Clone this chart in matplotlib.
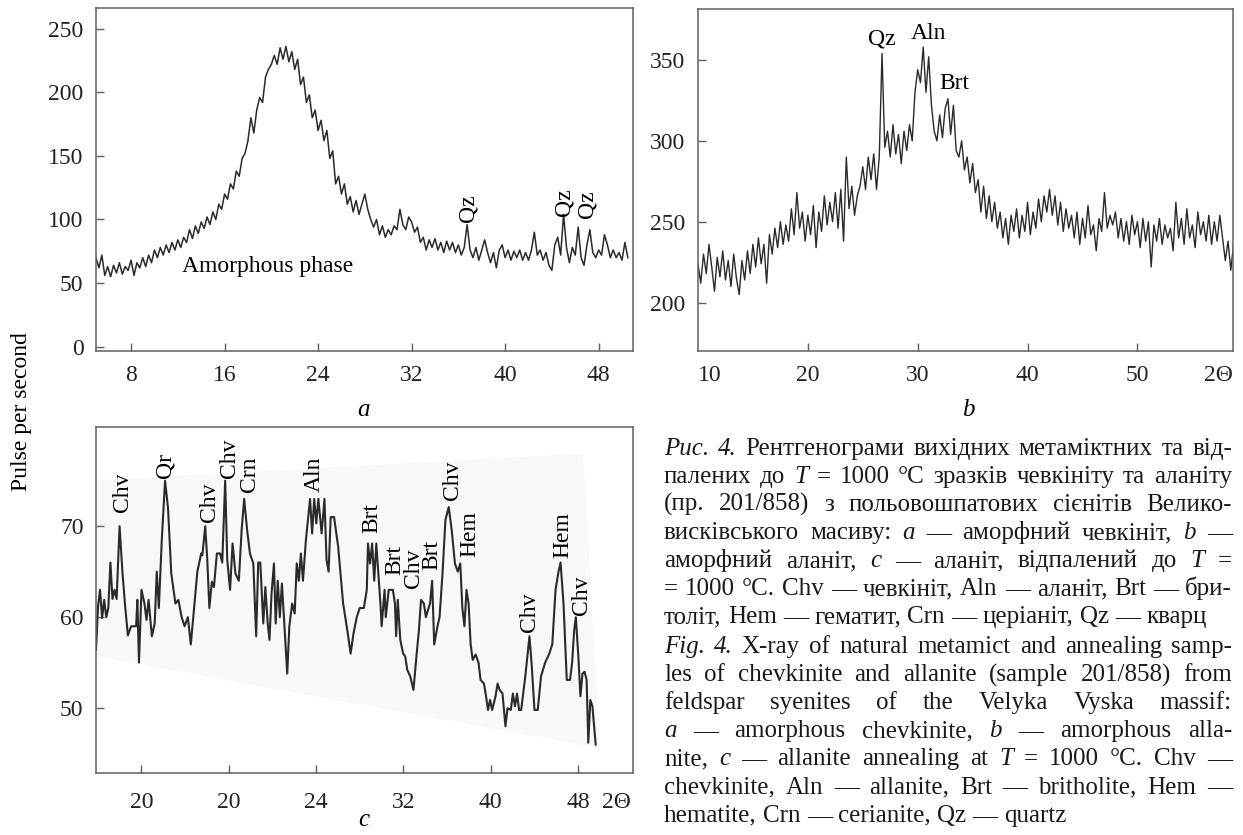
import numpy as np
import matplotlib.pyplot as plt

plt.rcParams['font.family'] = ['Liberation Serif', 'DejaVu Serif']

W, H = 1243, 835
FS = 17            # tick / label font size
CAP_FS = 18        # caption font size
LINE = '#2a2a2a'
SPINE = '#606060'

# panel a: amorphous chevkinite, scan from 5 deg in 0.25 deg steps
a_start, a_step = 5.0, 0.25
a_counts = [
    70, 62, 72, 56, 63, 55, 64, 58,
    66, 57, 63, 60, 68, 56, 66, 62,
    70, 63, 72, 66, 76, 70, 78, 72,
    80, 74, 82, 76, 84, 78, 86, 82,
    92, 85, 95, 89, 98, 93, 102, 96,
    106, 100, 112, 108, 120, 116, 128, 124,
    138, 134, 148, 152, 162, 180, 168, 186,
    196, 192, 212, 218, 222, 229, 222, 235,
    226, 236, 224, 232, 218, 226, 206, 212,
    192, 198, 180, 186, 170, 178, 162, 170,
    148, 154, 128, 134, 120, 128, 112, 118,
    106, 115, 104, 112, 120, 108, 100, 94,
    100, 88, 95, 86, 92, 88, 95, 92,
    108, 96, 92, 102, 98, 90, 94, 82,
    86, 76, 84, 78, 85, 76, 82, 74,
    83, 76, 82, 74, 80, 72, 78, 96,
    76, 70, 78, 68, 76, 84, 74, 66,
    74, 62, 76, 80, 70, 76, 68, 75,
    70, 76, 68, 74, 68, 76, 90, 72,
    76, 68, 74, 64, 60, 80, 86, 72,
    104, 78, 66, 78, 72, 94, 70, 64,
    80, 92, 74, 70, 76, 72, 88, 80,
    70, 76, 70, 74, 68, 82, 70,
]

# panel b: amorphous allanite, scan from 10 deg in 0.25 deg steps
b_start, b_step = 10.0, 0.25
b_counts = [
    224, 212, 230, 218, 236, 222, 207, 228,
    216, 232, 214, 226, 210, 230, 215, 205,
    226, 214, 232, 218, 236, 222, 240, 224,
    236, 212, 242, 230, 246, 234, 250, 236,
    248, 238, 258, 242, 268, 246, 256, 238,
    254, 242, 260, 234, 256, 244, 266, 248,
    262, 250, 268, 246, 270, 238, 290, 258,
    272, 254, 266, 272, 284, 270, 290, 276,
    292, 270, 290, 354, 296, 306, 290, 310,
    292, 304, 286, 306, 294, 310, 300, 330,
    344, 336, 358, 330, 352, 322, 306, 300,
    316, 302, 320, 326, 304, 322, 294, 290,
    300, 282, 290, 274, 286, 268, 276, 256,
    272, 252, 266, 250, 262, 246, 256, 240,
    252, 236, 254, 244, 258, 240, 254, 244,
    262, 242, 256, 246, 264, 250, 266, 256,
    270, 254, 266, 248, 262, 244, 258, 246,
    254, 240, 256, 236, 252, 240, 260, 242,
    248, 232, 252, 244, 268, 246, 254, 248,
    256, 240, 252, 238, 250, 236, 254, 242,
    250, 234, 252, 238, 250, 222, 248, 238,
    252, 236, 248, 240, 246, 232, 262, 240,
    252, 236, 258, 240, 248, 234, 256, 242,
    250, 238, 254, 236, 250, 238, 254, 240,
    226, 238, 220, 236,
]

# panel c: allanite annealed at 1000 C (axis as printed)
c_theta = [
    3.83, 4.02, 4.20, 4.39, 4.58, 4.77, 4.96, 5.15, 5.34, 5.53, 5.72, 5.99,
    6.25, 6.48, 6.75, 7.05, 7.51, 7.62, 7.77, 8.00, 8.27, 8.46, 8.65, 8.95,
    9.21, 9.40, 9.59, 9.86, 10.16, 10.43, 10.73, 11.11, 11.38, 11.68, 11.95,
    12.25, 12.52, 12.82, 13.12, 13.47, 13.58, 13.84, 14.03, 14.22, 14.45,
    14.64, 14.91, 15.21, 15.40, 15.67, 15.86, 16.12, 16.35, 16.61, 16.92,
    17.18, 17.41, 17.68, 17.94, 18.25, 18.51, 18.70, 18.89, 19.16, 19.35,
    19.57, 19.73, 19.92, 20.14, 20.30, 20.49, 20.68, 20.87, 21.05, 21.36,
    21.55, 21.81, 22.04, 22.23, 22.42, 22.61, 22.80, 23.07, 23.45, 23.64,
    23.83, 24.02, 24.21, 24.51, 24.77, 24.96, 25.15, 25.34, 25.65, 26.03,
    26.48, 26.86, 27.17, 27.43, 27.73, 28.00, 28.38, 28.65, 28.76, 28.95,
    29.14, 29.33, 29.52, 29.71, 29.90, 30.01, 30.28, 30.39, 30.66, 31.04,
    31.23, 31.34, 31.49, 31.72, 31.98, 32.17, 32.36, 32.63, 32.93, 33.20,
    33.43, 33.62, 33.88, 34.07, 34.26, 34.45, 34.64, 34.83, 35.13, 35.32,
    35.59, 35.86, 36.16, 36.43, 36.73, 36.99, 37.22, 37.41, 37.60, 37.79,
    37.98, 38.17, 38.36, 38.63, 38.89, 39.08, 39.39, 39.58, 39.76, 39.95,
    40.14, 40.45, 40.64, 40.83, 41.09, 41.36, 41.55, 41.85, 42.04, 42.23,
    42.42, 42.61, 42.80, 43.18, 43.56, 43.75, 44.02, 44.32, 44.62, 45.00,
    45.38, 45.65, 45.95, 46.22, 46.41, 46.68, 46.98, 47.28, 47.47, 47.66,
    47.81, 48.04, 48.23, 48.42, 48.61, 48.80, 48.95, 49.14, 49.33, 49.63,
]
c_counts = [
    56.4, 61.2, 63.0, 59.9, 61.9, 60.0, 61.0, 66.0, 62.0, 63.0, 62.0, 70.0,
    65.0, 61.5, 58.0, 59.0, 59.0, 61.9, 55.0, 63.0, 61.5, 59.7, 61.9, 57.9,
    59.3, 65.0, 61.0, 68.5, 75.0, 72.0, 64.8, 61.5, 61.9, 60.0, 59.0,
    60.0, 57.0, 61.0, 65.0, 67.0, 66.8, 70.0, 66.3, 61.0, 63.9,
    63.3, 67.0, 67.0, 66.0, 75.0, 66.3, 63.0, 68.1, 64.8, 64.0,
    69.6, 73.0, 69.6, 67.0, 65.9, 57.9, 66.0, 66.0, 59.3, 63.3,
    59.3, 57.5, 62.6, 65.9, 59.3, 64.0, 60.0, 63.7, 60.0, 53.8,
    59.0, 61.5, 60.4, 65.9, 64.0, 67.0, 64.0, 68.5, 73.0, 69.2,
    73.0, 70.3, 73.0, 69.2, 73.0, 66.3, 65.0, 71.0, 71.0, 67.7,
    61.5, 58.6, 56.0, 58.2, 60.0, 61.0, 61.0, 63.0, 68.1, 65.9,
    68.1, 64.0, 68.1, 64.8, 61.5, 59.0, 63.0, 60.0, 63.0, 63.0,
    61.5, 57.9, 61.9, 57.5, 56.0, 55.7, 54.2, 53.5, 52.0, 55.7,
    58.6, 61.9, 61.5, 60.0, 60.8, 61.5, 64.0, 57.0, 59.0, 60.0,
    64.8, 70.7, 72.1, 69.6, 65.9, 65.0, 65.9, 61.0, 59.0, 63.0,
    61.5, 57.0, 55.3, 55.9, 55.0, 53.1, 52.7, 51.3, 49.8, 50.9,
    49.8, 51.3, 52.7, 52.0, 51.6, 48.0, 50.0, 49.8, 51.6, 50.2,
    51.6, 49.8, 49.8, 53.5, 57.9, 55.0, 49.8, 49.8, 53.5, 55.0,
    56.0, 57.0, 63.0, 65.0, 66.0, 61.5, 53.1, 53.1, 55.0, 58.6,
    60.0, 55.7, 51.3, 53.8, 54.0, 53.1, 46.2, 50.9, 50.2, 46.0,
]

a_peaks = [('Qz', 36.8, 98), ('Qz', 45.0, 103), ('Qz', 47.0, 101)]
b_peaks = [('Qz', 26.7, 363), ('Aln', 30.95, 366.5), ('Brt', 33.3, 335.5)]
c_peaks = [
    ('Chv', 6.29, 71.6), ('Qr', 10.16, 75.3), ('Chv', 14.22, 70.5),
    ('Chv', 16.05, 75.3), ('Crn', 17.94, 73.8), ('Aln', 23.83, 73.8),
    ('Brt', 29.14, 69.2), ('Brt', 31.23, 64.6), ('Chv', 32.93, 63.2),
    ('Brt', 34.64, 65.2), ('Chv', 36.54, 72.9), ('Hem', 38.06, 66.6),
    ('Chv', 43.56, 58.4), ('Hem', 46.6, 66.5), ('Chv', 48.3, 60.2),
]
c_tick_pos = [8, 16, 24, 32, 40, 48]
c_tick_labels = ['20', '20', '24', '32', '40', '48']

caption = [
    ('_Рис._ _4._ Рентгенограми вихідних метаміктних та від-', True),
    ('палених до _T_ = 1000 °C зразків чевкініту та аланіту', True),
    ('(пр. 201/858) з польовошпатових сієнітів Велико-', True),
    ('висківського масиву: _a_ — аморфний чевкініт, _b_ —', True),
    ('аморфний аланіт, _c_ — аланіт, відпалений до _T_ =', True),
    ('= 1000 °C. Chv — чевкініт, Aln — аланіт, Brt — бри-', True),
    ('толіт, Hem — гематит, Crn — церіаніт, Qz — кварц', False),
    ('_Fig._ _4._ X-ray of natural metamict and annealing samp-', True),
    ('les of chevkinite and allanite (sample 201/858) from', True),
    ('feldspar syenites of the Velyka Vyska massif:', True),
    ('_a_ — amorphous chevkinite, _b_ — amorphous alla-', True),
    ('nite, _c_ — allanite annealing at _T_ = 1000 °C. Chv —', True),
    ('chevkinite, Aln — allanite, Brt — britholite, Hem —', True),
    ('hematite, Crn — cerianite, Qz — quartz', False),
]

fig = plt.figure(figsize=(W / 100, H / 100), dpi=100)


def axes_px(l, t, r, b):
    return fig.add_axes([l / W, 1 - b / H, (r - l) / W, (b - t) / H])


def style(ax):
    for s in ax.spines.values():
        s.set_color(SPINE)
        s.set_linewidth(1.1)
    ax.tick_params(direction='in', length=6, width=1.0, color=SPINE,
                   labelsize=FS, labelcolor='#222222')
    ax.tick_params(axis='x', pad=10)
    ax.tick_params(axis='y', pad=9)


def under_axis(ax, x, text, ha, pad=10):
    ax.annotate(text, xy=(x, 0), xycoords=('data', 'axes fraction'),
                xytext=(0, -pad), textcoords='offset points',
                ha=ha, va='top', fontsize=FS, color='#222222')


# ---- a
ax_a = axes_px(96, 8, 633, 351)
xa = a_start + a_step * np.arange(len(a_counts))
ax_a.plot(xa, a_counts, color=LINE, lw=1.1)
ax_a.set_xlim(5.0, 50.94)
ax_a.set_ylim(-3.4, 266.3)
ax_a.set_xticks([8, 16, 24, 32, 40, 48])
ax_a.set_yticks([0, 50, 100, 150, 200, 250])
style(ax_a)
for name, x, y in a_peaks:
    ax_a.text(x, y, name, rotation=90, ha='center', va='bottom', fontsize=FS)
ax_a.text(12.4, 63, 'Amorphous phase', ha='left', va='center', fontsize=FS)

# ---- b
ax_b = axes_px(698, 9, 1233, 351)
xb = b_start + b_step * np.arange(len(b_counts))
ax_b.plot(xb, b_counts, color=LINE, lw=1.0)
ax_b.set_xlim(10.0, 58.7)
ax_b.set_ylim(170.1, 381.5)
ax_b.set_xticks([20, 30, 40, 50])
ax_b.set_yticks([200, 250, 300, 350])
style(ax_b)
under_axis(ax_b, 10.0, '10', 'left')
under_axis(ax_b, 58.7, '2Θ', 'right')
for name, x, y in b_peaks:
    ax_b.text(x, y, name, ha='center', va='center', fontsize=FS)

# ---- c
ax_c = axes_px(96, 427, 633, 773)
ax_c.fill([0, 0.907, 0.938, 0], [0.846, 0.923, 0.072, 0.337],
          transform=ax_c.transAxes, color='#f8f8f8', lw=0, zorder=0)
ax_c.plot(c_theta, c_counts, color=LINE, lw=1.5)
ax_c.set_xlim(3.83, 53.05)
ax_c.set_ylim(42.87, 80.9)
ax_c.set_xticks(c_tick_pos)
ax_c.set_xticklabels(c_tick_labels)
ax_c.set_yticks([50, 60, 70])
style(ax_c)
ax_c.tick_params(axis='x', pad=14)
under_axis(ax_c, 51.5, '2Θ', 'center', pad=14)
for name, x, y in c_peaks:
    ax_c.text(x, y, name, rotation=90, ha='center', va='bottom', fontsize=FS)

# panel letters and shared y label
fig.text(364 / W, 1 - 410 / H, 'a', style='italic', fontsize=FS + 1,
         ha='center', va='center')
fig.text(968 / W, 1 - 410 / H, 'b', style='italic', fontsize=FS + 1,
         ha='center', va='center')
fig.text(364 / W, 1 - 820 / H, 'c', style='italic', fontsize=FS + 1,
         ha='center', va='center')
fig.text(22 / W, 1 - 412 / H, 'Pulse per second', rotation=90,
         fontsize=FS, ha='center', va='center')

# caption, justified line by line
CAP_L, CAP_R = 664, 1232
renderer = fig.canvas.get_renderer()
space_px = 0.25 * CAP_FS * 100 / 72
for i, (line, justify) in enumerate(caption):
    y_px = 455 + 28.0 * i if i < 7 else 653 + 28.1 * (i - 7)
    arts = []
    for word in line.split(' '):
        italic = len(word) > 2 and word.startswith('_') and word.endswith('_')
        s = word[1:-1] if italic else word
        arts.append(fig.text(0, 1 - y_px / H, s, fontsize=CAP_FS,
                             style='italic' if italic else 'normal',
                             ha='left', va='baseline', color='#1a1a1a'))
    widths = [t.get_window_extent(renderer).width for t in arts]
    gap = space_px
    if justify and len(arts) > 1:
        gap = max(2.0, (CAP_R - CAP_L - sum(widths)) / (len(arts) - 1))
    x = CAP_L
    for t, w in zip(arts, widths):
        t.set_x(x / W)
        x += w + gap

fig.savefig('out.png', dpi=100, facecolor='white')
